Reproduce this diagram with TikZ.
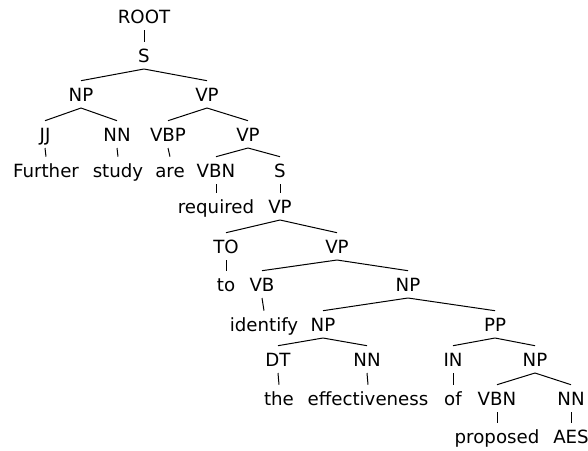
\documentclass[tikz,border=0pt]{standalone}
\usepackage{fontspec}
\setmainfont{DejaVu Sans}
\usepackage{tikz}

\begin{document}
\begin{tikzpicture}[x=1pt,y=-1pt,
    tag/.style={inner sep=0pt,outer xsep=0pt,outer ysep=7pt,text height=13.3pt,text depth=0pt,anchor=base,font=\fontsize{18.2}{22}\selectfont},
    branch/.style={black,line width=1pt}]
    \useasboundingbox (0,0) rectangle (588,450);
    % tags and words, row by row
    \node[tag] (root) at (144,23) {ROOT};
    \node[tag] (s1) at (144,62) {S};
    \node[tag] (np1) at (81,101) {NP};
    \node[tag] (vp1) at (207,101) {VP};
    \node[tag] (jj) at (45,141) {JJ};
    \node[tag] (nn1) at (117,141) {NN};
    \node[tag] (vbp) at (168,141) {VBP};
    \node[tag] (vp2) at (248,141) {VP};
    \node[tag] (further) at (46,177) {Further};
    \node[tag] (study) at (118,177) {study};
    \node[tag] (are) at (170,177) {are};
    \node[tag] (vbn1) at (216,177) {VBN};
    \node[tag] (s2) at (280,177) {S};
    \node[tag] (required) at (216,213) {required};
    \node[tag] (vp3) at (280,213) {VP};
    \node[tag] (totag) at (226,253) {TO};
    \node[tag] (vp4) at (337,253) {VP};
    \node[tag] (toword) at (226,291) {to};
    \node[tag] (vb) at (262,291) {VB};
    \node[tag] (np2) at (408,291) {NP};
    \node[tag] (identify) at (264,331) {identify};
    \node[tag] (np3) at (323,331) {NP};
    \node[tag] (pp) at (495,331) {PP};
    \node[tag] (dt) at (278,366) {DT};
    \node[tag] (nn2) at (367,366) {NN};
    \node[tag] (intag) at (453,366) {IN};
    \node[tag] (np4) at (535,366) {NP};
    \node[tag] (the) at (279,405) {the};
    \node[tag] (effectiveness) at (368,405) {effectiveness};
    \node[tag] (of) at (453,405) {of};
    \node[tag] (vbn2) at (497,405) {VBN};
    \node[tag] (nn3) at (571,405) {NN};
    \node[tag] (proposed) at (497,443) {proposed};
    \node[tag] (aes) at (571,443) {AES};
    % branches
    \draw[branch] (root.south) -- (s1.north);
    \draw[branch] (s1.south) -- (np1.north) (s1.south) -- (vp1.north);
    \draw[branch] (np1.south) -- (jj.north) (np1.south) -- (nn1.north);
    \draw[branch] (vp1.south) -- (vbp.north) (vp1.south) -- (vp2.north);
    \draw[branch] (jj.south) -- (further.north);
    \draw[branch] (nn1.south) -- (study.north);
    \draw[branch] (vbp.south) -- (are.north);
    \draw[branch] (vp2.south) -- (vbn1.north) (vp2.south) -- (s2.north);
    \draw[branch] (vbn1.south) -- (required.north);
    \draw[branch] (s2.south) -- (vp3.north);
    \draw[branch] (vp3.south) -- (totag.north) (vp3.south) -- (vp4.north);
    \draw[branch] (totag.south) -- (toword.north);
    \draw[branch] (vp4.south) -- (vb.north) (vp4.south) -- (np2.north);
    \draw[branch] (vb.south) -- (identify.north);
    \draw[branch] (np2.south) -- (np3.north) (np2.south) -- (pp.north);
    \draw[branch] (np3.south) -- (dt.north) (np3.south) -- (nn2.north);
    \draw[branch] (pp.south) -- (intag.north) (pp.south) -- (np4.north);
    \draw[branch] (dt.south) -- (the.north);
    \draw[branch] (nn2.south) -- (effectiveness.north);
    \draw[branch] (intag.south) -- (of.north);
    \draw[branch] (np4.south) -- (vbn2.north) (np4.south) -- (nn3.north);
    \draw[branch] (vbn2.south) -- (proposed.north);
    \draw[branch] (nn3.south) -- (aes.north);
\end{tikzpicture}
\end{document}
